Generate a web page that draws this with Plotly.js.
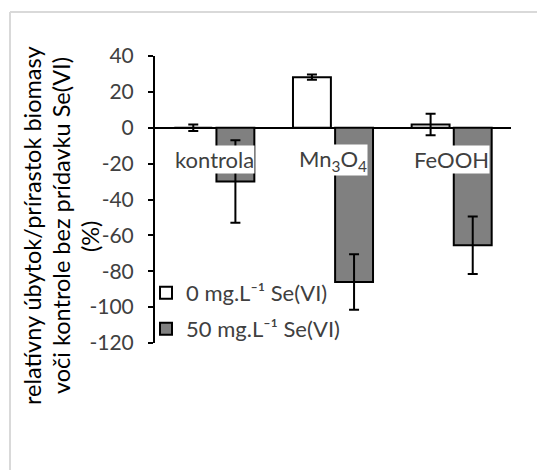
<!DOCTYPE html>
<html>
<head>
<meta charset="utf-8">
<script src="https://cdn.plot.ly/plotly-3.0.1.min.js"></script>
<style>html,body{margin:0;padding:0;background:#fff;}#chart{width:537px;height:470px;}</style>
</head>
<body>
<div id="chart"></div>
<script>
const categories = ["kontrola", "Mn3O4", "FeOOH"];
const categoryLabels = ["kontrola", "Mn<sub>3</sub>O<sub>4</sub>", "FeOOH"];
const seriesNames = ["0 mg.L⁻¹ Se(VI)", "50 mg.L⁻¹ Se(VI)"];
const values0 = [0, 28.2, 1.8];
const errors0 = [1.8, 1.5, 6];
const values50 = [-30, -86, -65.5];
const errors50 = [23, 15.5, 16];
const tickValues = [-120, -100, -80, -60, -40, -20, 0, 20, 40];
const tickLabels = ["-120", "-100", "-80", "-60", "-40", "-20", "0", "20", "40"];
const yTitleLines = ["relatívny úbytok/prírastok biomasy", "voči kontrole bez prídavku Se(VI)", "(%)"];

const W = 537, H = 470;
const m = {l: 155, r: 26, t: 56, b: 127};
const pw = W - m.l - m.r, ph = H - m.t - m.b;
const px = x => (x - m.l) / pw;
const py = y => (H - m.b - y) / ph;

const FONT = "Lato, 'Liberation Sans', sans-serif";

const traces = [
  {
    type: "bar", name: seriesNames[0], x: categories, y: values0,
    marker: {color: "#ffffff", line: {color: "#000000", width: 2}},
    error_y: {type: "data", array: errors0, visible: true, color: "#000000", thickness: 2, width: 5},
    legend: "legend"
  },
  {
    type: "bar", name: seriesNames[1], x: categories, y: values50,
    marker: {color: "#808080", line: {color: "#000000", width: 2}},
    error_y: {type: "data", array: errors50, visible: true, color: "#000000", thickness: 2, width: 5},
    legend: "legend2"
  }
];

const annotations = categories.map((c, i) => ({
  x: c, xref: "x", y: -17.8, yref: "y",
  text: categoryLabels[i], showarrow: false, bgcolor: "#ffffff",
  font: {family: FONT, size: 22, color: "#404040"},
  xanchor: "center", yanchor: "middle", borderpad: 0
}));
const titleX = [32, 61, 90];
const titleY = [226, 226, 237];
yTitleLines.forEach((t, i) => annotations.push({
  x: px(titleX[i]), xref: "paper", y: py(titleY[i]), yref: "paper",
  text: t, showarrow: false, textangle: -90,
  font: {family: FONT, size: 23.5, color: "#000000"},
  xanchor: "center", yanchor: "middle"
}));

const legendFont = {family: FONT, size: 22, color: "#404040"};
const layout = {
  width: W, height: H,
  margin: m,
  paper_bgcolor: "#ffffff", plot_bgcolor: "rgba(0,0,0,0)",
  font: {family: FONT, size: 21, color: "#404040"},
  barmode: "group", bargap: 0.29, bargroupgap: 0.1,
  showlegend: true,
  xaxis: {
    showticklabels: false, showline: false, showgrid: false, zeroline: false, ticks: "",
    range: [-0.5, 2.5]
  },
  yaxis: {
    range: [-120, 40], tickmode: "array", tickvals: tickValues, ticktext: tickLabels,
    showgrid: false, zeroline: true, zerolinecolor: "#000000", zerolinewidth: 2,
    showline: true, linecolor: "#000000", linewidth: 2,
    ticks: "outside", ticklen: 5, tickwidth: 2, tickcolor: "#000000",
    ticklabelstandoff: 10,
    tickfont: {family: FONT, size: 21, color: "#404040"}
  },
  legend: {
    x: px(146), y: py(293), xanchor: "left", yanchor: "middle",
    bgcolor: "rgba(0,0,0,0)", font: legendFont, itemwidth: 30
  },
  legend2: {
    x: px(146), y: py(329), xanchor: "left", yanchor: "middle",
    bgcolor: "rgba(0,0,0,0)", font: legendFont, itemwidth: 30
  },
  annotations: annotations,
  shapes: [
    {type: "line", xref: "paper", yref: "paper", x0: px(10), x1: px(537), y0: py(12), y1: py(12), line: {color: "#d9d9d9", width: 2}},
    {type: "line", xref: "paper", yref: "paper", x0: px(10), x1: px(10), y0: py(12), y1: py(470), line: {color: "#d9d9d9", width: 2}}
  ]
};

Plotly.newPlot("chart", traces, layout, {displayModeBar: false, staticPlot: true});
</script>
</body>
</html>
